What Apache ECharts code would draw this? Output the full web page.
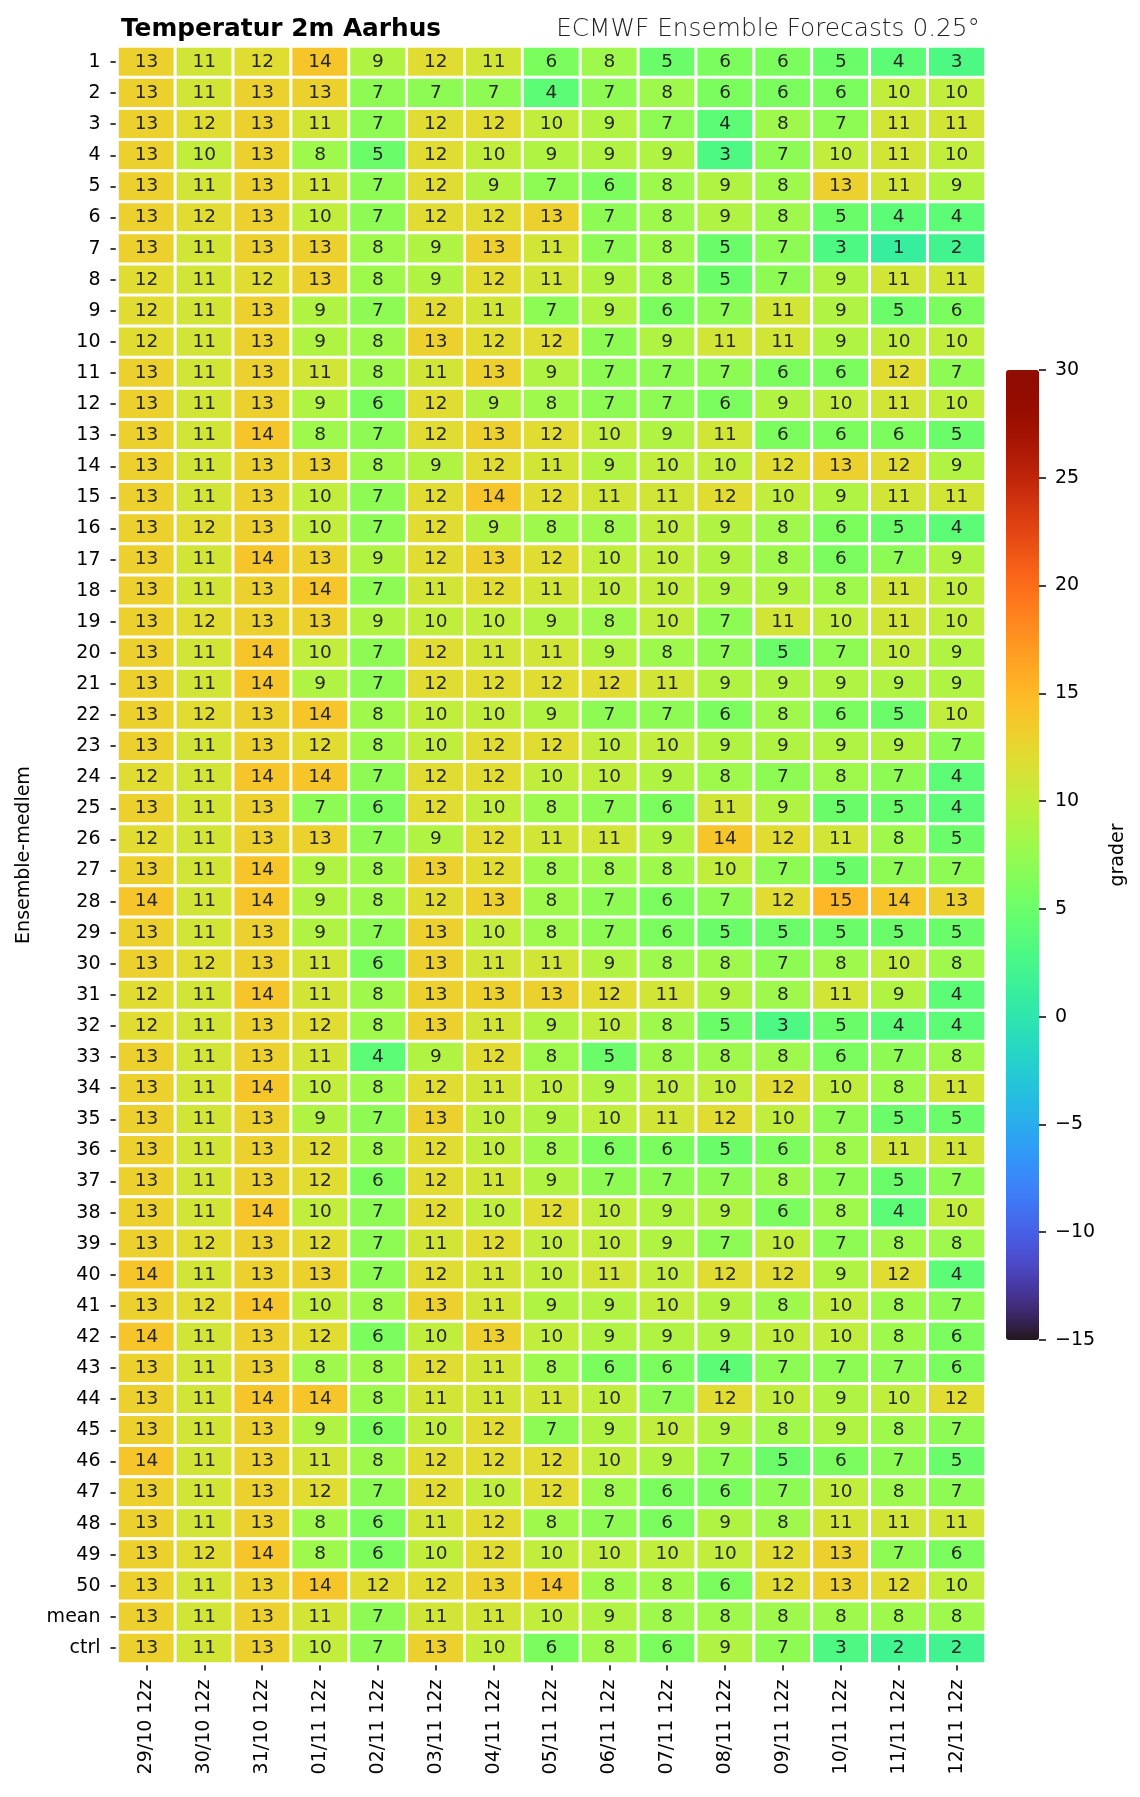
<!DOCTYPE html>
<html>
<head>
<meta charset="utf-8">
<script src="https://cdn.jsdelivr.net/npm/echarts@6/dist/echarts.min.js"></script>
<style>
html,body{margin:0;padding:0;background:#fff;}
#chart{width:1140px;height:1797px;}
</style>
</head>
<body>
<div id="chart"></div>
<script>
// Column (forecast time) labels
const dates = ['29/10 12z','30/10 12z','31/10 12z','01/11 12z','02/11 12z','03/11 12z','04/11 12z','05/11 12z','06/11 12z','07/11 12z','08/11 12z','09/11 12z','10/11 12z','11/11 12z','12/11 12z'];
// Colorbar tick values
const cbTicks = [-15,-10,-5,0,5,10,15,20,25,30];

// Ensemble members (°C), one array per member
const m01 = [13,11,12,14,9,12,11,6,8,5,6,6,5,4,3];
const m02 = [13,11,13,13,7,7,7,4,7,8,6,6,6,10,10];
const m03 = [13,12,13,11,7,12,12,10,9,7,4,8,7,11,11];
const m04 = [13,10,13,8,5,12,10,9,9,9,3,7,10,11,10];
const m05 = [13,11,13,11,7,12,9,7,6,8,9,8,13,11,9];
const m06 = [13,12,13,10,7,12,12,13,7,8,9,8,5,4,4];
const m07 = [13,11,13,13,8,9,13,11,7,8,5,7,3,1,2];
const m08 = [12,11,12,13,8,9,12,11,9,8,5,7,9,11,11];
const m09 = [12,11,13,9,7,12,11,7,9,6,7,11,9,5,6];
const m10 = [12,11,13,9,8,13,12,12,7,9,11,11,9,10,10];
const m11 = [13,11,13,11,8,11,13,9,7,7,7,6,6,12,7];
const m12 = [13,11,13,9,6,12,9,8,7,7,6,9,10,11,10];
const m13 = [13,11,14,8,7,12,13,12,10,9,11,6,6,6,5];
const m14 = [13,11,13,13,8,9,12,11,9,10,10,12,13,12,9];
const m15 = [13,11,13,10,7,12,14,12,11,11,12,10,9,11,11];
const m16 = [13,12,13,10,7,12,9,8,8,10,9,8,6,5,4];
const m17 = [13,11,14,13,9,12,13,12,10,10,9,8,6,7,9];
const m18 = [13,11,13,14,7,11,12,11,10,10,9,9,8,11,10];
const m19 = [13,12,13,13,9,10,10,9,8,10,7,11,10,11,10];
const m20 = [13,11,14,10,7,12,11,11,9,8,7,5,7,10,9];
const m21 = [13,11,14,9,7,12,12,12,12,11,9,9,9,9,9];
const m22 = [13,12,13,14,8,10,10,9,7,7,6,8,6,5,10];
const m23 = [13,11,13,12,8,10,12,12,10,10,9,9,9,9,7];
const m24 = [12,11,14,14,7,12,12,10,10,9,8,7,8,7,4];
const m25 = [13,11,13,7,6,12,10,8,7,6,11,9,5,5,4];
const m26 = [12,11,13,13,7,9,12,11,11,9,14,12,11,8,5];
const m27 = [13,11,14,9,8,13,12,8,8,8,10,7,5,7,7];
const m28 = [14,11,14,9,8,12,13,8,7,6,7,12,15,14,13];
const m29 = [13,11,13,9,7,13,10,8,7,6,5,5,5,5,5];
const m30 = [13,12,13,11,6,13,11,11,9,8,8,7,8,10,8];
const m31 = [12,11,14,11,8,13,13,13,12,11,9,8,11,9,4];
const m32 = [12,11,13,12,8,13,11,9,10,8,5,3,5,4,4];
const m33 = [13,11,13,11,4,9,12,8,5,8,8,8,6,7,8];
const m34 = [13,11,14,10,8,12,11,10,9,10,10,12,10,8,11];
const m35 = [13,11,13,9,7,13,10,9,10,11,12,10,7,5,5];
const m36 = [13,11,13,12,8,12,10,8,6,6,5,6,8,11,11];
const m37 = [13,11,13,12,6,12,11,9,7,7,7,8,7,5,7];
const m38 = [13,11,14,10,7,12,10,12,10,9,9,6,8,4,10];
const m39 = [13,12,13,12,7,11,12,10,10,9,7,10,7,8,8];
const m40 = [14,11,13,13,7,12,11,10,11,10,12,12,9,12,4];
const m41 = [13,12,14,10,8,13,11,9,9,10,9,8,10,8,7];
const m42 = [14,11,13,12,6,10,13,10,9,9,9,10,10,8,6];
const m43 = [13,11,13,8,8,12,11,8,6,6,4,7,7,7,6];
const m44 = [13,11,14,14,8,11,11,11,10,7,12,10,9,10,12];
const m45 = [13,11,13,9,6,10,12,7,9,10,9,8,9,8,7];
const m46 = [14,11,13,11,8,12,12,12,10,9,7,5,6,7,5];
const m47 = [13,11,13,12,7,12,10,12,8,6,6,7,10,8,7];
const m48 = [13,11,13,8,6,11,12,8,7,6,9,8,11,11,11];
const m49 = [13,12,14,8,6,10,12,10,10,10,10,12,13,7,6];
const m50 = [13,11,13,14,12,12,13,14,8,8,6,12,13,12,10];
const mean = [13,11,13,11,7,11,11,10,9,8,8,8,8,8,8];
const ctrl = [13,11,13,10,7,13,10,6,8,6,9,7,3,2,2];

const rowArrays = [m01,m02,m03,m04,m05,m06,m07,m08,m09,m10,m11,m12,m13,m14,m15,m16,m17,m18,m19,m20,
  m21,m22,m23,m24,m25,m26,m27,m28,m29,m30,m31,m32,m33,m34,m35,m36,m37,m38,m39,m40,
  m41,m42,m43,m44,m45,m46,m47,m48,m49,m50,mean,ctrl];
const rowLabels = rowArrays.map((_, i) => i < 50 ? String(i + 1) : (i === 50 ? 'mean' : 'ctrl'));

const cells = [];
rowArrays.forEach((row, yi) => row.forEach((v, xi) => cells.push([xi, yi, v])));

// turbo colormap (style only)
function turbo(t) {
  const r = 0.13572138 + t*(4.61539260 + t*(-42.66032258 + t*(132.13108234 + t*(-152.94239396 + t*59.28637943))));
  const g = 0.09140261 + t*(2.19418839 + t*(4.84296658 + t*(-14.18503333 + t*(4.27729857 + t*2.82956604))));
  const b = 0.10667330 + t*(12.64194608 + t*(-60.58204836 + t*(110.36276771 + t*(-89.90310912 + t*27.34824973))));
  const c = x => Math.round(Math.max(0, Math.min(1, x)) * 255).toString(16).padStart(2, '0');
  return '#' + c(r) + c(g) + c(b);
}
const turboStops = [];
for (let i = 0; i <= 64; i++) turboStops.push(turbo(i / 64));

const FONT = "'DejaVu Sans', sans-serif";
const chart = echarts.init(document.getElementById('chart'), null, {renderer: 'canvas'});
chart.setOption({
  animation: false,
  backgroundColor: '#ffffff',
  title: [
    {text: 'Temperatur 2m Aarhus', left: 116, top: 12,
     textStyle: {fontFamily: FONT, fontWeight: 'bold', fontSize: 24.8, color: '#000'}},
    {text: 'ECMWF Ensemble Forecasts 0.25°', right: 155, top: 12,
     textStyle: {fontFamily: "'DejaVu Sans ExtraLight', 'DejaVu Sans', sans-serif", fontWeight: 200, fontSize: 24.8, color: '#222'}}
  ],
  grid: [
    {left: 117.5, top: 46.5, width: 868, height: 1617, containLabel: false, outerBoundsMode: 'none'},
    {left: 1006, top: 370, width: 33, height: 970, containLabel: false, outerBoundsMode: 'none'}
  ],
  xAxis: [
    {type: 'category', gridIndex: 0, data: dates, position: 'bottom',
     axisLine: {show: false},
     axisTick: {show: true, alignWithLabel: true, length: 7, lineStyle: {color: '#000', width: 1.5}},
     axisLabel: {rotate: 90, margin: 16, fontFamily: FONT, fontSize: 19, color: '#000'},
     splitLine: {show: false}},
    {type: 'category', gridIndex: 1, data: [''], show: false}
  ],
  yAxis: [
    {type: 'category', gridIndex: 0, data: rowLabels, inverse: true,
     axisLine: {show: false},
     axisTick: {show: true, alignWithLabel: true, length: 7, lineStyle: {color: '#000', width: 1.5}},
     axisLabel: {margin: 17, fontFamily: FONT, fontSize: 19, color: '#000'},
     name: 'Ensemble-medlem', nameLocation: 'middle', nameGap: 84, nameRotate: 90,
     nameTextStyle: {fontFamily: FONT, fontSize: 19, color: '#000'},
     splitLine: {show: false}},
    {type: 'value', gridIndex: 1, min: -15, max: 30, interval: 5, position: 'right',
     axisLine: {show: false},
     axisTick: {show: true, length: 7, lineStyle: {color: '#000', width: 1.5}},
     axisLabel: {margin: 16, fontFamily: FONT, fontSize: 19, color: '#000',
       formatter: v => cbTicks.includes(v) ? String(v).replace('-', '\u2212') : ''},
     splitLine: {show: false},
     name: 'grader', nameLocation: 'middle', nameGap: 70, nameRotate: 90,
     nameTextStyle: {fontFamily: FONT, fontSize: 19, color: '#000'}}
  ],
  visualMap: [{
    type: 'continuous', min: -15, max: 30, seriesIndex: 0,
    inRange: {color: turboStops},
    orient: 'vertical', left: 1006, top: 370, itemWidth: 33, itemHeight: 970,
    padding: 0, calculable: false, hoverLink: false, text: null, showLabel: false
  }],
  series: [{
    type: 'heatmap', xAxisIndex: 0, yAxisIndex: 0, data: cells,
    itemStyle: {borderColor: '#ffffff', borderWidth: 3},
    label: {show: true, formatter: p => String(p.value[2]), fontFamily: FONT, fontSize: 18.5, color: '#262626'},
    emphasis: {disabled: true}
  }]
});
</script>
</body>
</html>
